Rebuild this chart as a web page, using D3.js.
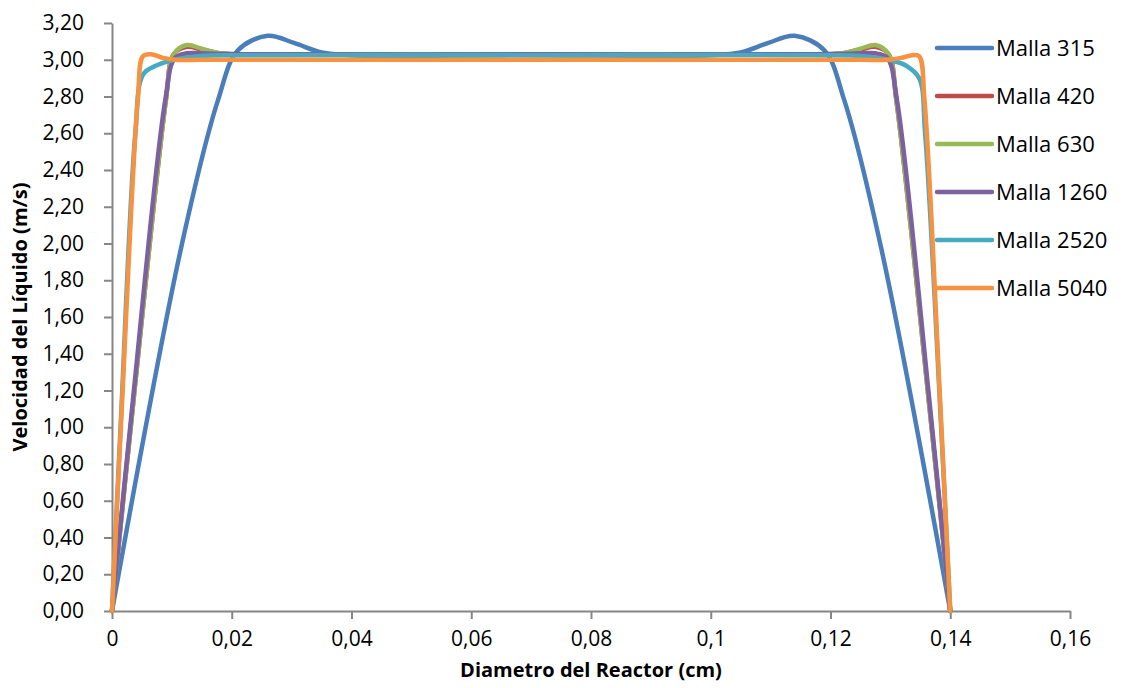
<!DOCTYPE html>
<html>
<head>
<meta charset="utf-8">
<script src="https://cdn.jsdelivr.net/npm/d3@7"></script>
<style>
body{margin:0;background:#fff;}
svg text{font-family:"Open Sans",sans-serif;fill:#000;}
</style>
</head>
<body>
<div class="chart"></div>
<script>
// series names and colours
const series=["Malla 315","Malla 420","Malla 630","Malla 1260","Malla 2520","Malla 5040"]
const colors=["#4A7EBB","#BE4B48","#98B954","#7D60A0","#46AAC5","#F69240"]

// x positions (cm) and velocities (m/s)
const x315=[0,0.0115,0.0177,0.021,0.026,0.0305,0.035,0.04,0.07,0.1,0.105,0.1095,0.114,0.119,0.1223,0.1285,0.14]
const v315=[0,1.97,2.78,3.05,3.13,3.09,3.04,3.025,3.025,3.025,3.04,3.09,3.13,3.05,2.78,1.97,0]

const x420=[0,0.0036,0.009,0.0103,0.0125,0.015,0.018,0.022,0.07,0.118,0.122,0.125,0.1275,0.1297,0.131,0.1364,0.14]
const v420=[0,1.15,2.78,3.03,3.07,3.055,3.035,3.03,3.03,3.03,3.035,3.055,3.07,3.03,2.78,1.15,0]

const x630=[0,0.0036,0.009,0.0103,0.0125,0.015,0.018,0.022,0.07,0.118,0.122,0.125,0.1275,0.1297,0.131,0.1364,0.14]
const v630=[0,1.15,2.78,3.03,3.08,3.06,3.035,3.03,3.03,3.03,3.035,3.06,3.08,3.03,2.78,1.15,0]

const x1260=[0,0.0035,0.0089,0.0105,0.0125,0.015,0.02,0.07,0.12,0.125,0.1275,0.1295,0.1311,0.1365,0.14]
const v1260=[0,1.15,2.78,3.01,3.035,3.035,3.03,3.03,3.03,3.035,3.035,3.01,2.78,1.15,0]

const x2520=[0,0.0015,0.0039,0.0052,0.0075,0.0105,0.015,0.02,0.07,0.12,0.125,0.1295,0.1325,0.1348,0.1358,0.1384,0.14]
const v2520=[0,1.05,2.6,2.92,2.97,3.00,3.02,3.025,3.025,3.025,3.02,3.00,2.97,2.90,2.6,1.05,0]

const x5040=[0,0.0017,0.0043,0.0052,0.0065,0.0085,0.0105,0.015,0.07,0.125,0.1295,0.1318,0.1336,0.1348,0.1357,0.1383,0.14]
const v5040=[0,1.15,2.78,3.02,3.03,3.01,3.00,3.00,3.00,3.00,3.00,3.01,3.025,3.02,2.78,1.15,0]

const xTicks=[0,0.02,0.04,0.06,0.08,0.1,0.12,0.14,0.16]
const yTicks=[0,0.2,0.4,0.6,0.8,1,1.2,1.4,1.6,1.8,2,2.2,2.4,2.6,2.8,3,3.2]

const xs=[x315,x420,x630,x1260,x2520,x5040]
const vs=[v315,v420,v630,v1260,v2520,v5040]

const W=1122,H=688
const margin=({top:23,right:52,bottom:77,left:112})
const width=W-margin.left-margin.right,
	  height=H-margin.top-margin.bottom

const svg=d3.select('.chart').append('svg')
		.attr('width',W)
		.attr('height',H)

const g=svg.append('g')
		.attr('transform','translate('+margin.left+','+margin.top+')')

const xScale=d3.scaleLinear().domain([0,0.16]).range([0,width])
const yScale=d3.scaleLinear().domain([0,3.2]).range([height,0])

const fmt=d=>d3.format('.2f')(d).replace('.',',')
const fmtX=d=>String(d).replace('.',',')

const xAxis=d3.axisBottom(xScale).tickValues(xTicks).tickFormat(fmtX).tickSizeInner(8).tickSizeOuter(0).tickPadding(12)
const yAxis=d3.axisLeft(yScale).tickValues(yTicks).tickFormat(fmt).tickSizeInner(8).tickSizeOuter(0).tickPadding(20)

g.append('g')
		.attr('class','x-axis')
		.attr('transform',`translate(0,${height})`)
		.call(xAxis)

g.append('g')
		.attr('class','y-axis')
		.call(yAxis)

svg.selectAll('.domain, .tick line').attr('stroke','#868686').attr('stroke-width',2)
svg.selectAll('.tick text').style('font-size','21px').attr('fill','#000')

const line=d3.line()
		.x(d=>xScale(d[0]))
		.y(d=>yScale(d[1]))
		.curve(d3.curveCatmullRom.alpha(0.5))

series.forEach((s,i)=>{
	const pts=xs[i].map((x,j)=>[x,vs[i][j]])
	g.append('path')
		.datum(pts)
		.attr('fill','none')
		.attr('stroke',colors[i])
		.attr('stroke-width',4.5)
		.attr('stroke-linejoin','round')
		.attr('stroke-linecap','round')
		.attr('d',line)
})

// legend
const legend=svg.append('g').attr('transform','translate(937,48)')
series.forEach((s,i)=>{
	const row=legend.append('g').attr('transform',`translate(0,${i*48})`)
	row.append('line')
		.attr('x1',0).attr('x2',55)
		.attr('stroke',colors[i])
		.attr('stroke-width',4.5)
		.attr('stroke-linecap','round')
	row.append('text')
		.attr('x',59)
		.attr('y',8)
		.style('font-size','22px')
		.text(s)
})

svg.append('text')
		.attr('x',margin.left+width/2)
		.attr('y',677)
		.attr('text-anchor','middle')
		.style('font-size','20px')
		.style('font-weight','bold')
		.text('Diametro del Reactor (cm)')

svg.append('text')
		.attr('transform',`translate(27,${margin.top+height/2}) rotate(-90)`)
		.attr('text-anchor','middle')
		.style('font-size','20px')
		.style('font-weight','bold')
		.text('Velocidad del Líquido (m/s)')
</script>
</body>
</html>
